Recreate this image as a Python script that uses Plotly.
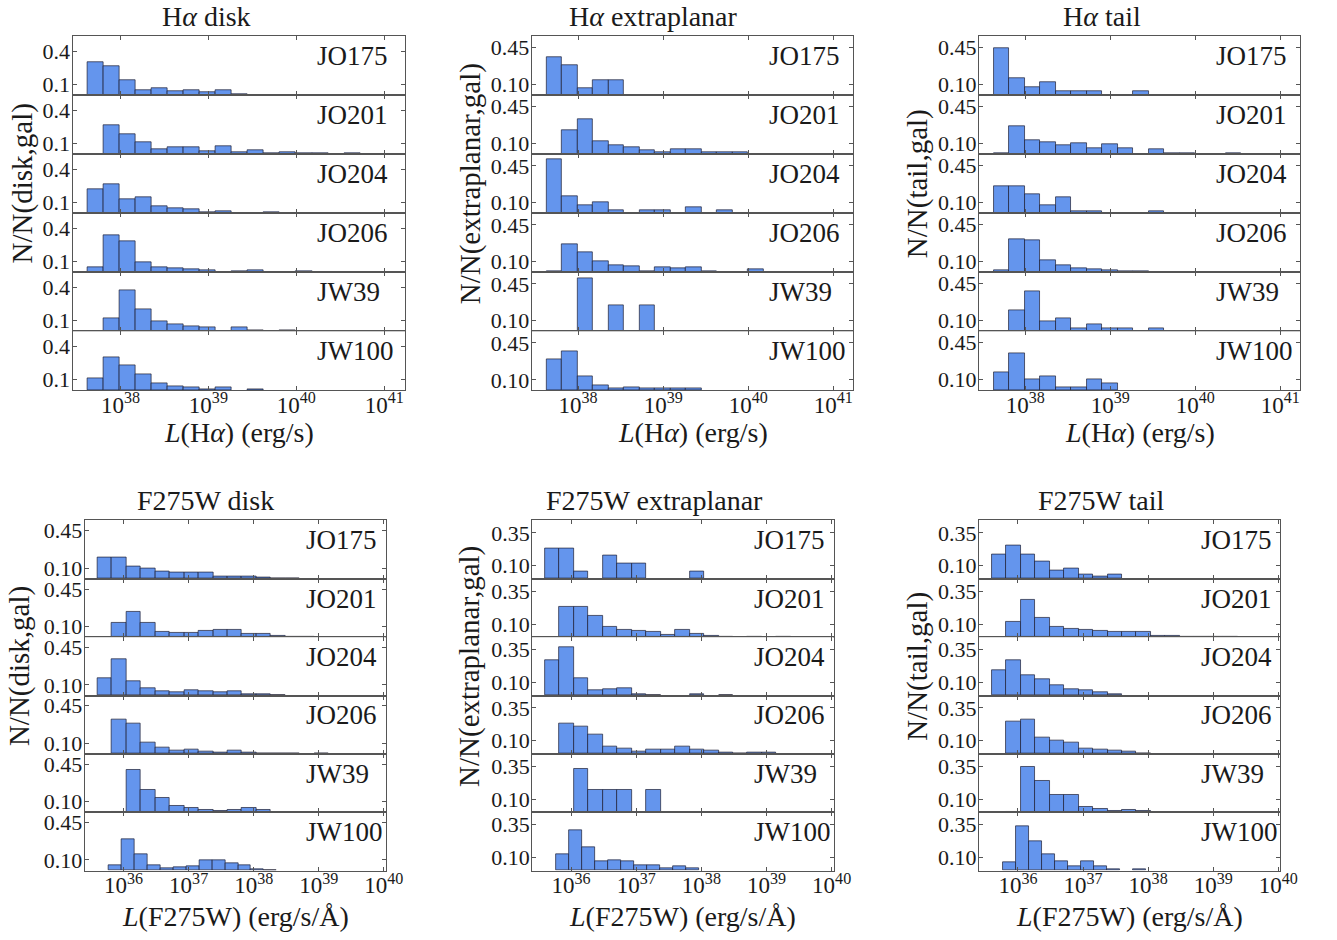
import plotly.graph_objects as go

# ---------------------------------------------------------------------------
# Normalised luminosity distributions of star-forming clumps (log10 bins)
# ---------------------------------------------------------------------------
galaxies = ["JO175", "JO201", "JO204", "JO206", "JW39", "JW100"]

# log10 L bin grids
ha_bin_start, ha_bin_width = 37.63, 0.182
uv_bin_start, uv_bin_width = 35.60, 0.222
uv_jw100_bin_start, uv_jw100_bin_width = 35.77, 0.199

# H-alpha, disk
ha_disk = [
    [0.30, 0.27, 0.14, 0.05, 0.06, 0.04, 0.05, 0.03, 0.05, 0.012, 0.004, 0.002, 0.001, 0.001, 0.001],
    [0.003, 0.27, 0.186, 0.106, 0.05, 0.063, 0.063, 0.03, 0.077, 0.02, 0.037, 0.01, 0.017, 0.008, 0.005, 0.002, 0.005],
    [0.22, 0.27, 0.126, 0.149, 0.06, 0.046, 0.034, 0.011, 0.023, 0.003, 0.003, 0.009],
    [0.043, 0.34, 0.28, 0.09, 0.05, 0.034, 0.03, 0.02, 0.003, 0.014, 0.023, 0.003, 0.003, 0.009, 0.003, 0, 0.003],
    [0, 0.12, 0.375, 0.20, 0.09, 0.06, 0.045, 0.04, 0, 0.04, 0.006, 0, 0.006],
    [0.108, 0.30, 0.233, 0.144, 0.067, 0.033, 0.025, 0.011, 0.025, 0, 0.006],
]

# H-alpha, extraplanar
ha_extra = [
    [0.357, 0.286, 0.071, 0.143, 0.143],
    [0, 0.226, 0.33, 0.124, 0.083, 0.064, 0.041, 0.019, 0.045, 0.045, 0.022, 0.022, 0.022],
    [0.51, 0.16, 0.08, 0.108, 0.025, 0, 0.025, 0.025, 0, 0.054, 0, 0.025],
    [0.012, 0.27, 0.19, 0.10, 0.068, 0.053, 0.012, 0.045, 0.039, 0.045, 0.012, 0.003, 0.003, 0.03, 0, 0.003, 0.003],
    [0, 0, 0.50, 0, 0.25, 0, 0.25],
    [0.29, 0.374, 0.13, 0.046, 0.021, 0.031, 0.015, 0.021, 0.015, 0.015],
]

# H-alpha, tail
ha_tail = [
    [0.44, 0.16, 0.08, 0.12, 0.04, 0.04, 0.04, 0, 0, 0.04],
    [0.006, 0.26, 0.13, 0.11, 0.085, 0.103, 0.058, 0.094, 0.058, 0, 0.049, 0.006, 0.006, 0, 0, 0.009],
    [0.256, 0.256, 0.18, 0.075, 0.153, 0.022, 0.022, 0, 0, 0, 0.022],
    [0.018, 0.31, 0.30, 0.116, 0.068, 0.039, 0.027, 0.021, 0.009, 0.006],
    [0, 0.20, 0.377, 0.097, 0.125, 0.024, 0.07, 0.024, 0.024, 0, 0.024],
    [0.17, 0.347, 0.10, 0.133, 0.031, 0.031, 0.10, 0.068],
]

# F275W, disk
uv_disk = [
    [0.197, 0.203, 0.116, 0.097, 0.072, 0.059, 0.059, 0.059, 0.025, 0.019, 0.019, 0.009, 0.006, 0.003],
    [0, 0.137, 0.24, 0.13, 0.054, 0.041, 0.041, 0.06, 0.067, 0.067, 0.032, 0.032, 0.016, 0.006, 0.003],
    [0.16, 0.34, 0.134, 0.066, 0.044, 0.031, 0.05, 0.041, 0.031, 0.037, 0.009, 0.009, 0.006],
    [0, 0.32, 0.28, 0.11, 0.06, 0.028, 0.04, 0.019, 0.016, 0.028, 0.016, 0.006, 0.003, 0.003, 0, 0.003],
    [0, 0.003, 0.40, 0.21, 0.13, 0.056, 0.04, 0.025, 0.015, 0.022, 0.04, 0.019],
    [0.05, 0.29, 0.15, 0.053, 0.025, 0.034, 0.04, 0.10, 0.096, 0.065, 0.053, 0.012, 0.003],
]

# F275W, extraplanar
uv_extra = [
    [0.235, 0.235, 0.059, 0, 0.176, 0.118, 0.118, 0, 0, 0, 0.059],
    [0, 0.232, 0.232, 0.163, 0.077, 0.054, 0.048, 0.043, 0.02, 0.054, 0.023, 0.013, 0.005, 0, 0.005, 0, 0.005],
    [0.268, 0.365, 0.13, 0.038, 0.048, 0.056, 0.013, 0.005, 0, 0, 0.013, 0, 0.005],
    [0, 0.23, 0.21, 0.144, 0.056, 0.04, 0.018, 0.035, 0.03, 0.056, 0.035, 0.025, 0.008, 0.003, 0.008, 0.008],
    [0, 0, 0.333, 0.167, 0.167, 0.167, 0, 0.167],
    [0.125, 0.31, 0.18, 0.069, 0.079, 0.069, 0.043, 0.041, 0.02, 0.033, 0.015],
]

# F275W, tail
uv_tail = [
    [0.184, 0.253, 0.184, 0.133, 0.066, 0.082, 0.031, 0.015, 0.031],
    [0, 0.12, 0.283, 0.145, 0.082, 0.061, 0.056, 0.048, 0.038, 0.038, 0.038, 0.013, 0.008, 0.003, 0.002, 0.002, 0.002],
    [0.196, 0.27, 0.155, 0.128, 0.079, 0.048, 0.038, 0.028, 0.013],
    [0, 0.247, 0.262, 0.127, 0.104, 0.084, 0.041, 0.033, 0.025, 0.015, 0.005],
    [0, 0.003, 0.346, 0.242, 0.135, 0.135, 0.043, 0.025, 0.008, 0.018, 0.008],
    [0.064, 0.336, 0.221, 0.125, 0.074, 0.036, 0.074, 0.036, 0.01, 0, 0.01],
]

ha_decades = [38, 39, 40, 41]
uv_decades = [36, 37, 38, 39, 40]

# ---------------------------------------------------------------------------
# Figure geometry (pixels) and styling
# ---------------------------------------------------------------------------
W, H = 1337, 940
FONT = "Liberation Serif"
TXT = "#1a1a1a"
AX = "#555555"
FILL = "#6495ED"
EDGE = "rgba(25,25,45,0.85)"

panels = [
    dict(data=ha_disk, band="ha", title="H<i>α</i> disk", region="disk",
         box=(73.5, 34.3, 410.5, 390.0), xr=(37.455, 41.235), ymax=0.54,
         yt=[0.1, 0.4], ytt=["0.1", "0.4"], tcx=209, ylx=23),
    dict(data=ha_extra, band="ha", title="H<i>α</i> extraplanar", region="extraplanar",
         box=(539.0, 34.3, 865.0, 390.0), xr=(37.455, 41.235), ymax=0.56,
         yt=[0.10, 0.45], ytt=["0.10", "0.45"], tcx=662, ylx=477),
    dict(data=ha_tail, band="ha", title="H<i>α</i> tail", region="tail",
         box=(992.3, 34.3, 1318.0, 390.0), xr=(37.455, 41.235), ymax=0.555,
         yt=[0.10, 0.45], ytt=["0.10", "0.45"], tcx=1117, ylx=930),
    dict(data=uv_disk, band="uv", title="F275W disk", region="disk",
         box=(85.7, 520.7, 391.0, 872.3), xr=(35.40, 40.03), ymax=0.545,
         yt=[0.10, 0.45], ytt=["0.10", "0.45"], tcx=208, ylx=20),
    dict(data=uv_extra, band="uv", title="F275W extraplanar", region="extraplanar",
         box=(539.3, 520.7, 845.0, 872.3), xr=(35.40, 40.03), ymax=0.445,
         yt=[0.10, 0.35], ytt=["0.10", "0.35"], tcx=663, ylx=476),
    dict(data=uv_tail, band="uv", title="F275W tail", region="tail",
         box=(992.3, 520.7, 1297.7, 872.3), xr=(35.40, 40.03), ymax=0.445,
         yt=[0.10, 0.35], ytt=["0.10", "0.35"], tcx=1116, ylx=930),
]


def px(x):
    return x / W


def py(y):
    return 1 - y / H


fig = go.Figure()
layout = dict(
    width=W, height=H, margin=dict(l=0, r=0, t=0, b=0),
    paper_bgcolor="white", plot_bgcolor="white", showlegend=False,
    bargap=0, font=dict(family=FONT, color=TXT),
)
annotations = []

idx = 0
for p in panels:
    x0, y0, x1, y1 = p["box"]
    h = (y1 - y0) / 6
    decades = ha_decades if p["band"] == "ha" else uv_decades
    for r, gal in enumerate(galaxies):
        idx += 1
        sfx = "" if idx == 1 else str(idx)
        heights = p["data"][r]
        if p["band"] == "uv" and gal == "JW100":
            start, bw = uv_jw100_bin_start, uv_jw100_bin_width
        elif p["band"] == "uv":
            start, bw = uv_bin_start, uv_bin_width
        else:
            start, bw = ha_bin_start, ha_bin_width
        xs = [start + (i + 0.5) * bw for i in range(len(heights))]
        ys = [v if v > 0 else None for v in heights]
        fig.add_trace(go.Bar(
            x=xs, y=ys, width=bw, xaxis="x" + sfx, yaxis="y" + sfx,
            marker=dict(color=FILL, line=dict(color=EDGE, width=0.8)),
            hoverinfo="skip",
        ))
        top = y0 + r * h
        bot = top + h
        bottom_row = r == len(galaxies) - 1
        layout["xaxis" + sfx] = dict(
            domain=[px(x0), px(x1)], anchor="y" + sfx, range=list(p["xr"]),
            showgrid=False, zeroline=False, showline=True, mirror="ticks",
            linecolor=AX, linewidth=1, ticks="inside", ticklen=4, tickcolor=AX,
            tickvals=decades, ticktext=[f"10<sup>{d}</sup>" for d in decades],
            showticklabels=bottom_row, ticklabelstandoff=-6,
            tickfont=dict(family=FONT, size=23, color=TXT),
        )
        layout["yaxis" + sfx] = dict(
            domain=[py(bot), py(top)], anchor="x" + sfx, range=[0, p["ymax"]],
            showgrid=False, zeroline=False, showline=True, mirror="ticks",
            linecolor=AX, linewidth=1, ticks="inside", ticklen=4, tickcolor=AX,
            tickvals=p["yt"], ticktext=p["ytt"], ticklabelstandoff=-3,
            tickfont=dict(family=FONT, size=22, color=TXT),
        )
        annotations.append(dict(
            text=gal, xref=f"x{sfx} domain", yref=f"y{sfx} domain",
            x=0.73, y=0.66, xanchor="left", yanchor="middle", showarrow=False,
            font=dict(family=FONT, size=27, color=TXT),
        ))

    # panel title
    annotations.append(dict(
        text=p["title"], xref="paper", yref="paper",
        x=px(p["tcx"]), y=py(y0 - 20), xanchor="center", yanchor="middle",
        showarrow=False, font=dict(family=FONT, size=28, color=TXT),
    ))
    # x-axis title
    xt = "<i>L</i>(H<i>α</i>) (erg/s)" if p["band"] == "ha" else "<i>L</i>(F275W) (erg/s/Å)"
    dy = 42 if p["band"] == "ha" else 46
    annotations.append(dict(
        text=xt, xref="paper", yref="paper",
        x=px((x0 + x1) / 2), y=py(y1 + dy), xanchor="center", yanchor="middle",
        showarrow=False, font=dict(family=FONT, size=28, color=TXT),
    ))
    # y-axis title, centred on the third row
    annotations.append(dict(
        text=f"N/N({p['region']},gal)", xref="paper", yref="paper",
        x=px(p["ylx"]), y=py(y0 + 2.5 * h), xanchor="center", yanchor="middle",
        textangle=-90, showarrow=False, font=dict(family=FONT, size=29, color=TXT),
    ))

layout["annotations"] = annotations
fig.update_layout(**layout)
fig.write_html("out.html")
